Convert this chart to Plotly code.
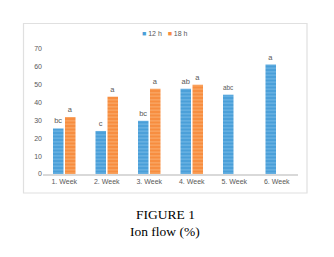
import plotly.graph_objects as go

categories = ["1. Week", "2. Week", "3. Week", "4. Week", "5. Week", "6. Week"]
h12 = [25.5, 24.1, 29.8, 47.8, 44.4, 61.3]
h18 = [31.9, 43.3, 47.8, 50.0, None, None]
lab12 = ["bc", "c", "bc", "ab", "abc", "a"]
lab18 = ["a", "a", "a", "a", "", ""]
series_names = ["12 h", "18 h"]

W, H = 334, 257
L, R, T, B = 43, 36, 49, 83
pw, ph = W - L - R, H - T - B

def px(x):
    return (x - L) / pw

def py(y):
    return (H - B - y) / ph

colors = ["#4a9fd8", "#f78d3f"]
stripes = ["#95ccef", "#fcc493"]

fig = go.Figure()
for vals, labs, c, s, nm in [(h12, lab12, colors[0], stripes[0], series_names[0]),
                             (h18, lab18, colors[1], stripes[1], series_names[1])]:
    fig.add_trace(go.Bar(
        x=categories, y=vals, name=nm, text=labs, textposition="outside",
        textfont=dict(size=7.5, color="#595959"), showlegend=False,
        marker=dict(color=c, line=dict(width=0),
                    pattern=dict(shape="-", fillmode="overlay", fgcolor=s, size=3.5, solidity=0.35)),
        cliponaxis=False,
    ))

fig.update_layout(
    width=W, height=H,
    margin=dict(l=L, r=R, t=T, b=B),
    paper_bgcolor="white", plot_bgcolor="white",
    barmode="group", bargap=0.435, bargroupgap=0.125,
    showlegend=False,
    font=dict(family="Liberation Sans", color="#595959"),
    xaxis=dict(showline=True, linecolor="#d9d9d9", linewidth=1.5, ticks="",
               tickfont=dict(size=7, color="#595959"), showgrid=False),
    yaxis=dict(range=[0, 70], dtick=10, showline=False, showgrid=False, zeroline=False,
               tickfont=dict(size=7, color="#595959"), ticks=""),
)

# legend (text-based, compact like the original)
legend_text = "&nbsp;&nbsp;&nbsp;".join(
    f"<span style='color:{c}'>■</span>&nbsp;{nm}" for c, nm in zip(colors, series_names))
fig.add_annotation(text=legend_text, xref="paper", yref="paper", x=px(165), y=py(34),
                   showarrow=False, xanchor="center", yanchor="middle",
                   font=dict(family="Liberation Sans", size=7, color="#595959"))

fig.add_shape(type="rect", xref="paper", yref="paper",
              x0=px(23.5), x1=px(307), y0=py(193), y1=py(23.5),
              line=dict(color="#e0e0e0", width=1.2), fillcolor="rgba(0,0,0,0)", layer="below")

fig.add_annotation(text="FIGURE 1", xref="paper", yref="paper", x=px(165), y=py(214),
                   showarrow=False, xanchor="center", yanchor="middle",
                   font=dict(family="Liberation Serif", size=13.5, color="black"))
fig.add_annotation(text="Ion flow (%)", xref="paper", yref="paper", x=px(165), y=py(231),
                   showarrow=False, xanchor="center", yanchor="middle",
                   font=dict(family="Liberation Serif", size=13.5, color="black"))

fig.write_html("out.html")
